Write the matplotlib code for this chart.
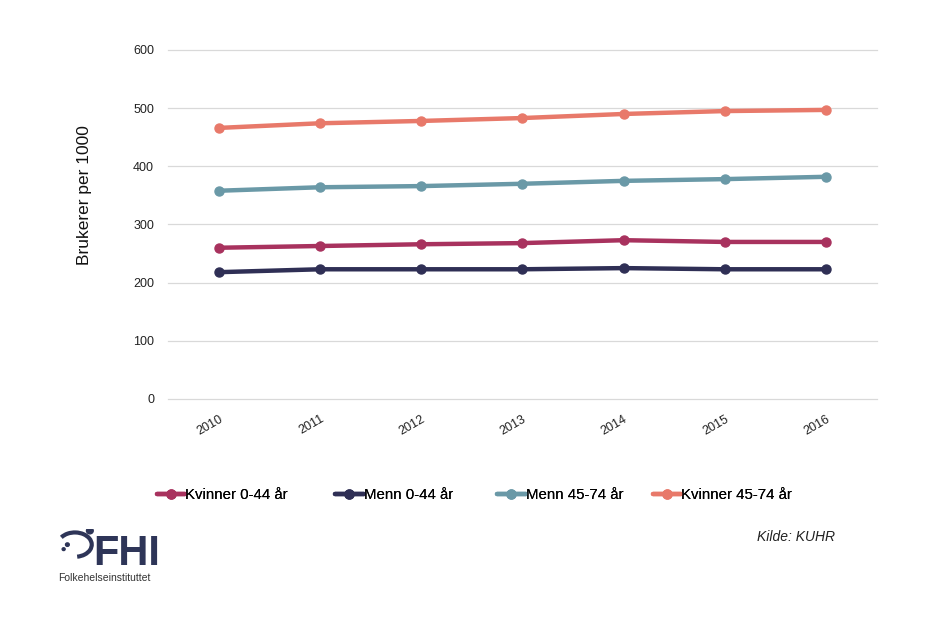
import matplotlib
matplotlib.use("Agg")
import matplotlib.pyplot as plt
from matplotlib.patches import Arc, Circle

years = ["2010", "2011", "2012", "2013", "2014", "2015", "2016"]
kvinner_0_44 = [260, 263, 266, 268, 273, 270, 270]
menn_0_44 = [218, 223, 223, 223, 225, 223, 223]
menn_45_74 = [358, 364, 366, 370, 375, 378, 382]
kvinner_45_74 = [466, 474, 478, 483, 490, 495, 497]

series = [
    ("Kvinner 0-44 år", kvinner_0_44, "#A8325E"),
    ("Menn 0-44 år", menn_0_44, "#2F2F55"),
    ("Menn 45-74 år", menn_45_74, "#6A99A7"),
    ("Kvinner 45-74 år", kvinner_45_74, "#E8796A"),
]

plt.rcParams['font.family'] = ['Liberation Sans', 'DejaVu Sans']

fig = plt.figure(figsize=(9.36, 6.32), dpi=100)
ax = fig.add_axes([0.1795, 0.3687, 0.757, 0.5522])

x = list(range(len(years)))
lines = []
for name, vals, col in series:
    ln, = ax.plot(x, vals, color=col, lw=3.2, marker="o", markersize=6.5, label=name,
                  solid_capstyle="round", zorder=3)
    lines.append(ln)

ax.set_xlim(-0.5, len(years) - 0.5)
ax.set_ylim(0, 600)
ax.set_yticks(range(0, 601, 100))
ax.set_xticks(x)
ax.set_xticklabels(years, rotation=30, ha="right", rotation_mode="anchor",
                   fontsize=9, color="#222222")
ax.tick_params(axis="y", labelsize=9, colors="#222222", length=0, pad=10)
ax.tick_params(axis="x", length=0, pad=10)
ax.grid(axis="y", color="#D9D9D9", lw=0.9)
for gl in ax.get_ygridlines():
    gl.set_clip_on(False)
ax.set_axisbelow(True)
for s in ax.spines.values():
    s.set_visible(False)
ax.set_ylabel("Brukerer per 1000", fontsize=12.5, color="#111111")
ax.yaxis.set_label_coords(-0.107, 0.585)

leg_x = [0.1677, 0.358, 0.531, 0.6976]
for ln, lx in zip(lines, leg_x):
    lg = fig.legend(handles=[ln], loc="center left", bbox_to_anchor=(lx, 0.216),
                    frameon=False, fontsize=10.8, handlelength=1.9, handletextpad=0.0,
                    borderpad=0, borderaxespad=0)
    fig.add_artist(lg)

fig.text(0.892, 0.150, "Kilde: KUHR", fontsize=10, style="italic", ha="right", va="center",
         color="#222222")

# FHI logo
navy = "#2E3558"
fig.text(0.100, 0.124, "FHI", fontsize=30, fontweight="bold", color=navy, ha="left", va="center")
fig.text(0.062, 0.086, "Folkehelseinstituttet", fontsize=7.5, color="#333333", ha="left", va="center")
lax = fig.add_axes([0.062, 0.108, 0.04, 0.055])
lax.set_xlim(0, 1); lax.set_ylim(0, 1); lax.axis("off")
lax.add_patch(Arc((0.45, 0.55), 0.9, 0.7, theta1=-80, theta2=150, color=navy, lw=3))
lax.add_patch(Circle((0.85, 0.95), 0.09, color=navy))
lax.add_patch(Circle((0.25, 0.55), 0.05, color=navy))
lax.add_patch(Circle((0.15, 0.42), 0.04, color=navy))

fig.savefig("out.png", dpi=100)
